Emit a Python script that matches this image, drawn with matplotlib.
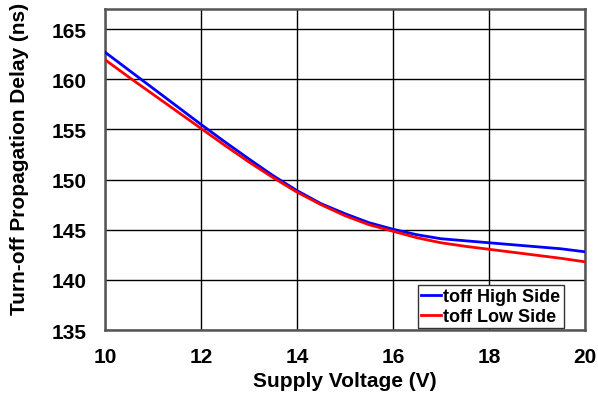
import matplotlib
matplotlib.use("Agg")
import matplotlib.pyplot as plt

# supply voltage (V)
voltage = [10, 10.5, 11, 11.5, 12, 12.5, 13, 13.5, 14, 14.5, 15,
           15.5, 16, 16.5, 17, 17.5, 18, 18.5, 19, 19.5, 20]
# turn-off propagation delay (ns)
toff_high = [162.7, 160.9, 159.1, 157.3, 155.5, 153.75, 152.05, 150.4, 148.9, 147.6, 146.6,
             145.7, 145.05, 144.5, 144.1, 143.9, 143.7, 143.5, 143.3, 143.1, 142.8]
toff_low = [161.95, 160.2, 158.5, 156.8, 155.1, 153.4, 151.75, 150.2, 148.75, 147.5, 146.4,
            145.5, 144.85, 144.2, 143.7, 143.35, 143.05, 142.75, 142.45, 142.15, 141.8]

xticks = [10, 12, 14, 16, 18, 20]
yticks = [135, 140, 145, 150, 155, 160, 165]

plt.rcParams['font.family'] = ['Liberation Sans', 'DejaVu Sans']
plt.rcParams['font.weight'] = 'bold'

fig = plt.figure(figsize=(5.98, 4.02), dpi=100)
ax = fig.add_axes([0.1756, 0.1766, 0.8024, 0.7984])

ax.plot(voltage, toff_high, color='#0000ff', lw=2, label='toff High Side', zorder=3)
ax.plot(voltage, toff_low, color='#ff0000', lw=2, label='toff Low Side', zorder=3)

ax.set_xlim(10, 20)
ax.set_ylim(135, 167)
ax.set_xticks(xticks)
ax.set_yticks(yticks)
ax.grid(True, color='black', lw=1)
ax.tick_params(length=0, labelsize=15)
ax.tick_params(axis='y', pad=13)
ax.tick_params(axis='x', pad=12)
for lab in ax.get_xticklabels() + ax.get_yticklabels():
    lab.set_fontweight('bold')
for s in ax.spines.values():
    s.set_color('#555555')
    s.set_linewidth(1.8)

ax.set_xlabel("Supply Voltage (V)", fontsize=15, fontweight='bold', labelpad=4)
ax.set_ylabel("Turn-off Propagation Delay (ns)", fontsize=15, fontweight='bold')
ax.yaxis.set_label_coords(-0.158, 0.535)

leg = ax.legend(loc='lower right', bbox_to_anchor=(0.967, -0.012), fancybox=False,
                edgecolor='#333333', framealpha=1, handlelength=1.1, handletextpad=0.1,
                borderpad=0.2, labelspacing=0.15, borderaxespad=0.3,
                prop={'size': 13, 'weight': 'bold'})
leg.get_frame().set_linewidth(1)

fig.savefig("out.png", dpi=100)
